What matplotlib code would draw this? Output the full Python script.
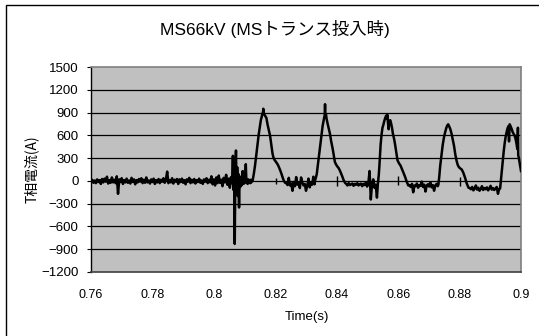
import numpy as np
import matplotlib
matplotlib.use("Agg")
import matplotlib.pyplot as plt
from matplotlib.patches import Rectangle

plt.rcParams['font.family'] = ['Liberation Sans', 'Noto Sans CJK JP', 'DejaVu Sans']

# ---------------- data ----------------
title = "MS66kV (MSトランス投入時)"
xlabel = "Time(s)"
ylabel = "T相電流(A)"
x_ticks = [0.76, 0.78, 0.80, 0.82, 0.84, 0.86, 0.88, 0.90]
x_tick_labels = ["0.76", "0.78", "0.8", "0.82", "0.84", "0.86", "0.88", "0.9"]
y_ticks = [-1200, -900, -600, -300, 0, 300, 600, 900, 1200, 1500]

# pre-switching noise, sampled every 0.4 ms from 0.7600 s
pre_start, pre_step = 0.7600, 0.0004
pre_vals = [-10, 15, -25, 5, -30, 20, -15, 10, -40, 25,
            -20, 30, -10, 55, -35, 10, -25, 45, -20, 15,
            -30, 60, -170, 20, -15, 35, -40, 10, -20, 30,
            -25, 5, -35, 40, -15, 20, -45, 10, -20, 25,
            -10, 35, -30, 15, -25, 45, -20, 5, -35, 20,
            -15, 30, -40, 10, -20, 25, -30, 15, -10, 35,
            -25, 20, 122, -30, 10, -20, 35, -35, 15, -10,
            25, -40, 20, -15, 30, -25, 10, -45, 20, -10,
            40, -30, 15, -20, 25, -35, 10, -15, 30, -25,
            5, -40, 20, -10, 35, -30, 15, -20, 60, -45,
            20, -60, 45, -30, 70, -25, 15, -70, 40, -20,
            80, -50, 30, -90, 50]

# switching transient, sampled every 0.2 ms from 0.8058 s
sw_start, sw_step = 0.8058, 0.0002
sw_vals = [-30, 60, 330, -120, 80, -830, 120, 400, -150, 180,
           -200, 90, -350, 60, -80, 40, -60, 30, 130, -40,
           20, -30, 10, 220, -20, 15, -40, 20, -25, 10,
           -30, 15, -20, 5]

# inrush humps (time, current)
hump1_t = [0.8126, 0.8130, 0.8134, 0.8138, 0.8142, 0.8146, 0.8150, 0.8153, 0.8156, 0.8158,
           0.8160, 0.8161, 0.8163, 0.8165, 0.8168, 0.8171, 0.8175, 0.8179, 0.8183, 0.8187,
           0.8191, 0.8194, 0.8197, 0.8200, 0.8204, 0.8208, 0.8212, 0.8216, 0.8220, 0.8224,
           0.8228, 0.8232]
hump1_v = [0, 90, 200, 340, 480, 610, 720, 800, 850, 880,
           905, 950, 890, 870, 850, 830, 740, 670, 595, 480,
           360, 308, 280, 263, 240, 215, 180, 140, 95, 45,
           0, -25]

flat_step = 0.0004
flat1_start = 0.8236
flat1_vals = [-30, -55, 40, -60, -35, -130, -15, -70, 50, -50, -25, -95,
              45, -20, -60, -40, -130, -65, 30, -85, -25, -50, 55, -45]

hump2_t = [0.8329, 0.8332, 0.8335, 0.8339, 0.8343, 0.8347, 0.8351, 0.8354, 0.8357, 0.8359,
           0.8361, 0.8362, 0.8363, 0.8365, 0.8367, 0.8370, 0.8374, 0.8378, 0.8382, 0.8387,
           0.8391, 0.8394, 0.8398, 0.8402, 0.8406, 0.8410, 0.8414, 0.8418, 0.8422, 0.8427]
hump2_v = [0, 40, 90, 220, 350, 490, 620, 720, 790, 830,
           870, 1010, 850, 880, 820, 760, 690, 620, 520, 420,
           320, 250, 215, 190, 170, 140, 100, 60, 15, -25]

flat2_start = 0.8431
flat2_vals = [-40, -60, -30, -55, -45, -35, -65, -40, -50, -30,
              -60, -45, -35, -70, -40, -55, -20, -75, -30, 130,
              -245, -40, 20, -90, -50, -220]

hump3_t = [0.8534, 0.8537, 0.8539, 0.8541, 0.8543, 0.8546, 0.8549, 0.8552, 0.8555, 0.8558,
           0.8561, 0.8563, 0.8565, 0.8567, 0.8569, 0.8571, 0.8574, 0.8577, 0.8580, 0.8583,
           0.8587, 0.8590, 0.8594, 0.8598, 0.8603, 0.8608, 0.8613, 0.8618, 0.8622, 0.8627,
           0.8633]
hump3_v = [-40, 80, 200, 350, 480, 610, 700, 740, 790, 830,
           860, 820, 870, 760, 680, 760, 800, 760, 700, 620,
           550, 480, 370, 270, 230, 200, 150, 100, 60, 0,
           -60]

flat3_start = 0.8637
flat3_vals = [-55, -80, -40, -150, -60, -70, -35, -90, -55, -65, -10, -80,
              -50, -140, -60, -45, -75, -20, -85, -55, -130, -60, -40, -70]

hump4_t = [0.8731, 0.8734, 0.8737, 0.8741, 0.8745, 0.8749, 0.8753, 0.8757, 0.8760, 0.8763,
           0.8766, 0.8770, 0.8774, 0.8778, 0.8782, 0.8786, 0.8790, 0.8794, 0.8798, 0.8802,
           0.8807, 0.8812, 0.8818, 0.8823, 0.8829]
hump4_v = [-50, 60, 200, 340, 470, 570, 640, 700, 730, 745,
           720, 680, 620, 540, 460, 350, 270, 210, 180, 165,
           150, 110, 40, -30, -90]

flat4_start = 0.8833
flat4_vals = [-95, -110, -80, -125, -100, -60, -115, -90, -130, -105, -70, -120, -95,
              -110, -85, -125, -100, -65, -115, -95, -120, -100, -80, -170, -105]

hump5_t = [0.8932, 0.8935, 0.8938, 0.8941, 0.8944, 0.8947, 0.8950, 0.8953, 0.8956, 0.8959,
           0.8961, 0.8963, 0.8965, 0.8967, 0.8970, 0.8973, 0.8976, 0.8979, 0.8982, 0.8985,
           0.8988, 0.8990, 0.8991, 0.8993, 0.8996, 0.9000]
hump5_v = [-100, 20, 150, 280, 400, 500, 580, 640, 690, 720,
           520, 745, 730, 710, 680, 640, 620, 600, 560, 500,
           420, 700, 340, 300, 230, 130]

# isolated glitch samples on the falling edges
glitch_t = [0.8202, 0.8400, 0.8600, 0.8800]
glitch_lo = [-40, -69, -60, -69]
glitch_hi = [40, 64, 60, 46]


def grid_times(start, step, vals):
    return list(start + step * np.arange(len(vals)))


t_all = (grid_times(pre_start, pre_step, pre_vals) + grid_times(sw_start, sw_step, sw_vals)
         + hump1_t + grid_times(flat1_start, flat_step, flat1_vals)
         + hump2_t + grid_times(flat2_start, flat_step, flat2_vals)
         + hump3_t + grid_times(flat3_start, flat_step, flat3_vals)
         + hump4_t + grid_times(flat4_start, flat_step, flat4_vals)
         + hump5_t)
v_all = (pre_vals + sw_vals + hump1_v + flat1_vals + hump2_v + flat2_vals
         + hump3_v + flat3_vals + hump4_v + flat4_vals + hump5_v)

# ---------------- figure ----------------
W, H = 539, 336
fig = plt.figure(figsize=(W / 100, H / 100), dpi=100)
fig.patch.set_facecolor('white')

# chart-area border (right/bottom edges run off the image)
fig.patches.append(Rectangle((5.5 / W, -2 / H), 1.0, (H - 4.5 + 2) / H,
                             transform=fig.transFigure, fill=False,
                             edgecolor='black', linewidth=1.0))

L, R, T, B = 91, 521, 67, 272
ax = fig.add_axes([L / W, 1 - B / H, (R - L) / W, (B - T) / H])
ax.set_facecolor('#C0C0C0')

ax.set_xlim(0.76, 0.90)
ax.set_ylim(-1200, 1500)
ax.set_yticks(y_ticks)
ax.set_xticks(x_ticks)
ax.set_xticklabels(x_tick_labels)

for y in y_ticks[1:-1]:
    ax.axhline(y, color='black', linewidth=0.9, zorder=1)

ax.plot(t_all, v_all, color='black', linewidth=1.8, zorder=3)
ax.vlines(glitch_t, glitch_lo, glitch_hi, color='black', linewidth=1.0, zorder=3)

for side in ['top', 'right', 'bottom']:
    ax.spines[side].set_color('#7F7F7F')
    ax.spines[side].set_linewidth(1.2)
ax.spines['left'].set_color('black')
ax.spines['left'].set_linewidth(1.0)
ax.spines['bottom'].set_color('#404040')

ax.tick_params(axis='y', direction='out', length=3, width=0.8, labelsize=9.5, pad=6)
ax.tick_params(axis='x', length=0, labelsize=9, pad=12)

ax.set_xlabel(xlabel, fontsize=9.5, va='center')
ax.xaxis.set_label_coords((306.7 - L) / (R - L), -(316.7 - B) / (B - T))
ax.set_ylabel(ylabel, fontsize=10, va='center', family=['Noto Sans CJK JP', 'DejaVu Sans'])
ax.yaxis.set_label_coords(-(L - 31.7) / (R - L), 0.5)

fig.text(275 / W, 1 - 28.5 / H, title, ha='center', va='center', fontsize=12.5)

fig.savefig('out.png', dpi=100)
